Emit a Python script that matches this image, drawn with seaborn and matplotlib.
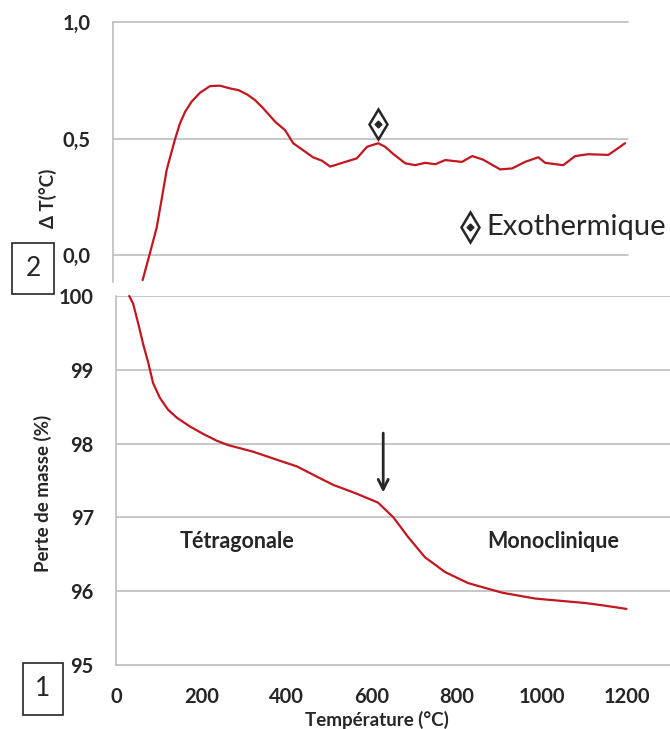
import matplotlib
matplotlib.use("Agg")
import matplotlib.pyplot as plt
import seaborn as sns
import pandas as pd

# DTA signal (ΔT, °C) versus temperature
dta_temp = [69, 86, 102, 113, 125, 133, 145, 156, 168, 183, 203, 226, 249, 273, 292,
            312, 331, 350, 378, 401, 420, 443, 466, 487, 506, 517, 541, 568, 592, 618,
            634, 653, 681, 704, 727, 751, 774, 813, 837, 862, 902, 930, 960, 991, 1007,
            1049, 1077, 1107, 1154, 1170, 1193]
dta_delta = [-0.107, 0.008, 0.12, 0.236, 0.365, 0.42, 0.50, 0.565, 0.615, 0.658, 0.697,
             0.725, 0.727, 0.715, 0.708, 0.69, 0.665, 0.63, 0.572, 0.536, 0.48, 0.45,
             0.42, 0.405, 0.38, 0.386, 0.40, 0.415, 0.465, 0.48, 0.465, 0.434, 0.394,
             0.386, 0.396, 0.39, 0.408, 0.40, 0.425, 0.41, 0.368, 0.372, 0.40, 0.42,
             0.396, 0.386, 0.425, 0.433, 0.43, 0.45, 0.48]

# TGA mass (%) versus temperature
tga_temp = [31, 40, 52, 64, 76, 87, 103, 122, 143, 174, 205, 236, 263, 322, 378, 425,
            472, 510, 561, 615, 651, 686, 725, 772, 826, 906, 984, 1101, 1140, 1198]
tga_mass = [100.0, 99.9, 99.63, 99.34, 99.09, 98.82, 98.62, 98.46, 98.35, 98.23, 98.13,
            98.04, 97.98, 97.89, 97.78, 97.69, 97.55, 97.44, 97.33, 97.2, 97.0, 96.73,
            96.46, 96.26, 96.11, 95.98, 95.9, 95.84, 95.81, 95.76]

x_ticks = [0, 200, 400, 600, 800, 1000, 1200]
mass_ticks = [95, 96, 97, 98, 99, 100]
dta_ticks = [0.0, 0.5, 1.0]
dta_tick_labels = ["0,0", "0,5", "1,0"]

exo_peak = (618, 0.562)
transition_temp = 627

sns.set_style("white")
plt.rcParams["font.family"] = ["Lato", "DejaVu Sans"]

RED = "#c3161f"
GRID = "#bdbdbd"
TXT = "#262626"

W, H = 670, 729
fig = plt.figure(figsize=(W / 100, H / 100), dpi=100)

def frac(l, t, r, b):
    return [l / W, 1 - b / H, (r - l) / W, (b - t) / H]

# ---- lower panel: TGA ----
ax1 = fig.add_axes(frac(116, 296, 670, 665))
df1 = pd.DataFrame({"T": tga_temp, "m": tga_mass})
sns.lineplot(data=df1, x="T", y="m", ax=ax1, color=RED, lw=1.6, clip_on=False)
ax1.set_xlim(0, 1300)
ax1.set_ylim(95, 100)
ax1.set_xticks(x_ticks)
ax1.set_yticks(mass_ticks)
ax1.set_yticklabels([str(v) for v in mass_ticks])
for v in mass_ticks[1:]:
    ax1.axhline(v, color=GRID, lw=1.2, zorder=0)
for s in ["top", "right"]:
    ax1.spines[s].set_visible(False)
for s in ["left", "bottom"]:
    ax1.spines[s].set_color(GRID)
    ax1.spines[s].set_linewidth(1.2)
ax1.tick_params(axis="both", direction="out", length=5, width=1.0, color=GRID,
                labelsize=14.5, labelcolor=TXT)
ax1.tick_params(axis="y", pad=11)
ax1.tick_params(axis="x", pad=11)
for lab in ax1.get_xticklabels() + ax1.get_yticklabels():
    lab.set_fontweight("bold")
ax1.set_xlabel("")
ax1.set_ylabel("")

ax1.annotate("", xy=(transition_temp, 97.3), xytext=(transition_temp, 98.18),
             arrowprops=dict(arrowstyle="->", color=TXT, lw=2, mutation_scale=18))
ax1.text(284, 96.67, "Tétragonale", ha="center", va="center", fontsize=15.5,
         fontweight="bold", color=TXT)
ax1.text(1026, 96.67, "Monoclinique", ha="center", va="center", fontsize=15.5,
         fontweight="bold", color=TXT)

# ---- upper panel: DTA ----
ax2 = fig.add_axes(frac(113, 22, 628, 282))
df2 = pd.DataFrame({"T": dta_temp, "dT": dta_delta})
sns.lineplot(data=df2, x="T", y="dT", ax=ax2, color=RED, lw=1.6)
ax2.set_xlim(0, 1200)
ax2.set_ylim(-0.115, 1.0)
ax2.set_xticks([])
ax2.set_yticks(dta_ticks)
ax2.set_yticklabels(dta_tick_labels)
for v in dta_ticks:
    ax2.axhline(v, color=GRID, lw=1.2, zorder=0, clip_on=False)
for s in ["top", "right", "bottom"]:
    ax2.spines[s].set_visible(False)
ax2.spines["left"].set_color(GRID)
ax2.spines["left"].set_linewidth(1.2)
ax2.tick_params(axis="y", direction="out", length=5, width=1.0, color=GRID,
                labelsize=14.5, labelcolor=TXT, pad=11)
for lab in ax2.get_yticklabels():
    lab.set_fontweight("bold")
ax2.set_xlabel("")
ax2.set_ylabel("")

# exothermic event marker and its key
ax2.plot(*exo_peak, marker="d", ms=15, mfc="white", mec=TXT, mew=1.8, clip_on=False)
ax2.plot(*exo_peak, marker="D", ms=3.5, color=TXT, clip_on=False)
ax2.plot(832, 0.12, marker="d", ms=15, mfc="white", mec=TXT, mew=1.8, clip_on=False)
ax2.plot(832, 0.12, marker="D", ms=3.5, color=TXT, clip_on=False)
ax2.text(870, 0.12, "Exothermique", ha="left", va="center", fontsize=21,
         color=TXT, clip_on=False)

# axis titles
fig.text(377 / W, 1 - 720 / H, "Température (°C)", ha="center", va="center",
         fontsize=13.5, fontweight="bold", color=TXT)
fig.text(43 / W, 1 - 493 / H, "Perte de masse (%)", ha="center", va="center",
         rotation=90, fontsize=13.5, fontweight="bold", color=TXT)
fig.text(48 / W, 1 - 198 / H, "Δ T(°C)", ha="center", va="center",
         rotation=90, fontsize=13.5, fontweight="bold", color=TXT)

# panel numbers
for label, (l, t, r, b) in [("2", (12, 243, 54, 294)), ("1", (23, 663, 63, 715))]:
    fig.patches.append(plt.Rectangle((l / W, 1 - b / H), (r - l) / W, (b - t) / H,
                                     transform=fig.transFigure, fill=False,
                                     ec=TXT, lw=1.2))
    fig.text((l + r) / 2 / W, 1 - (t + b) / 2 / H, label, ha="center", va="center",
             fontsize=19, color=TXT)

fig.savefig("out.png", dpi=100, facecolor="white")
